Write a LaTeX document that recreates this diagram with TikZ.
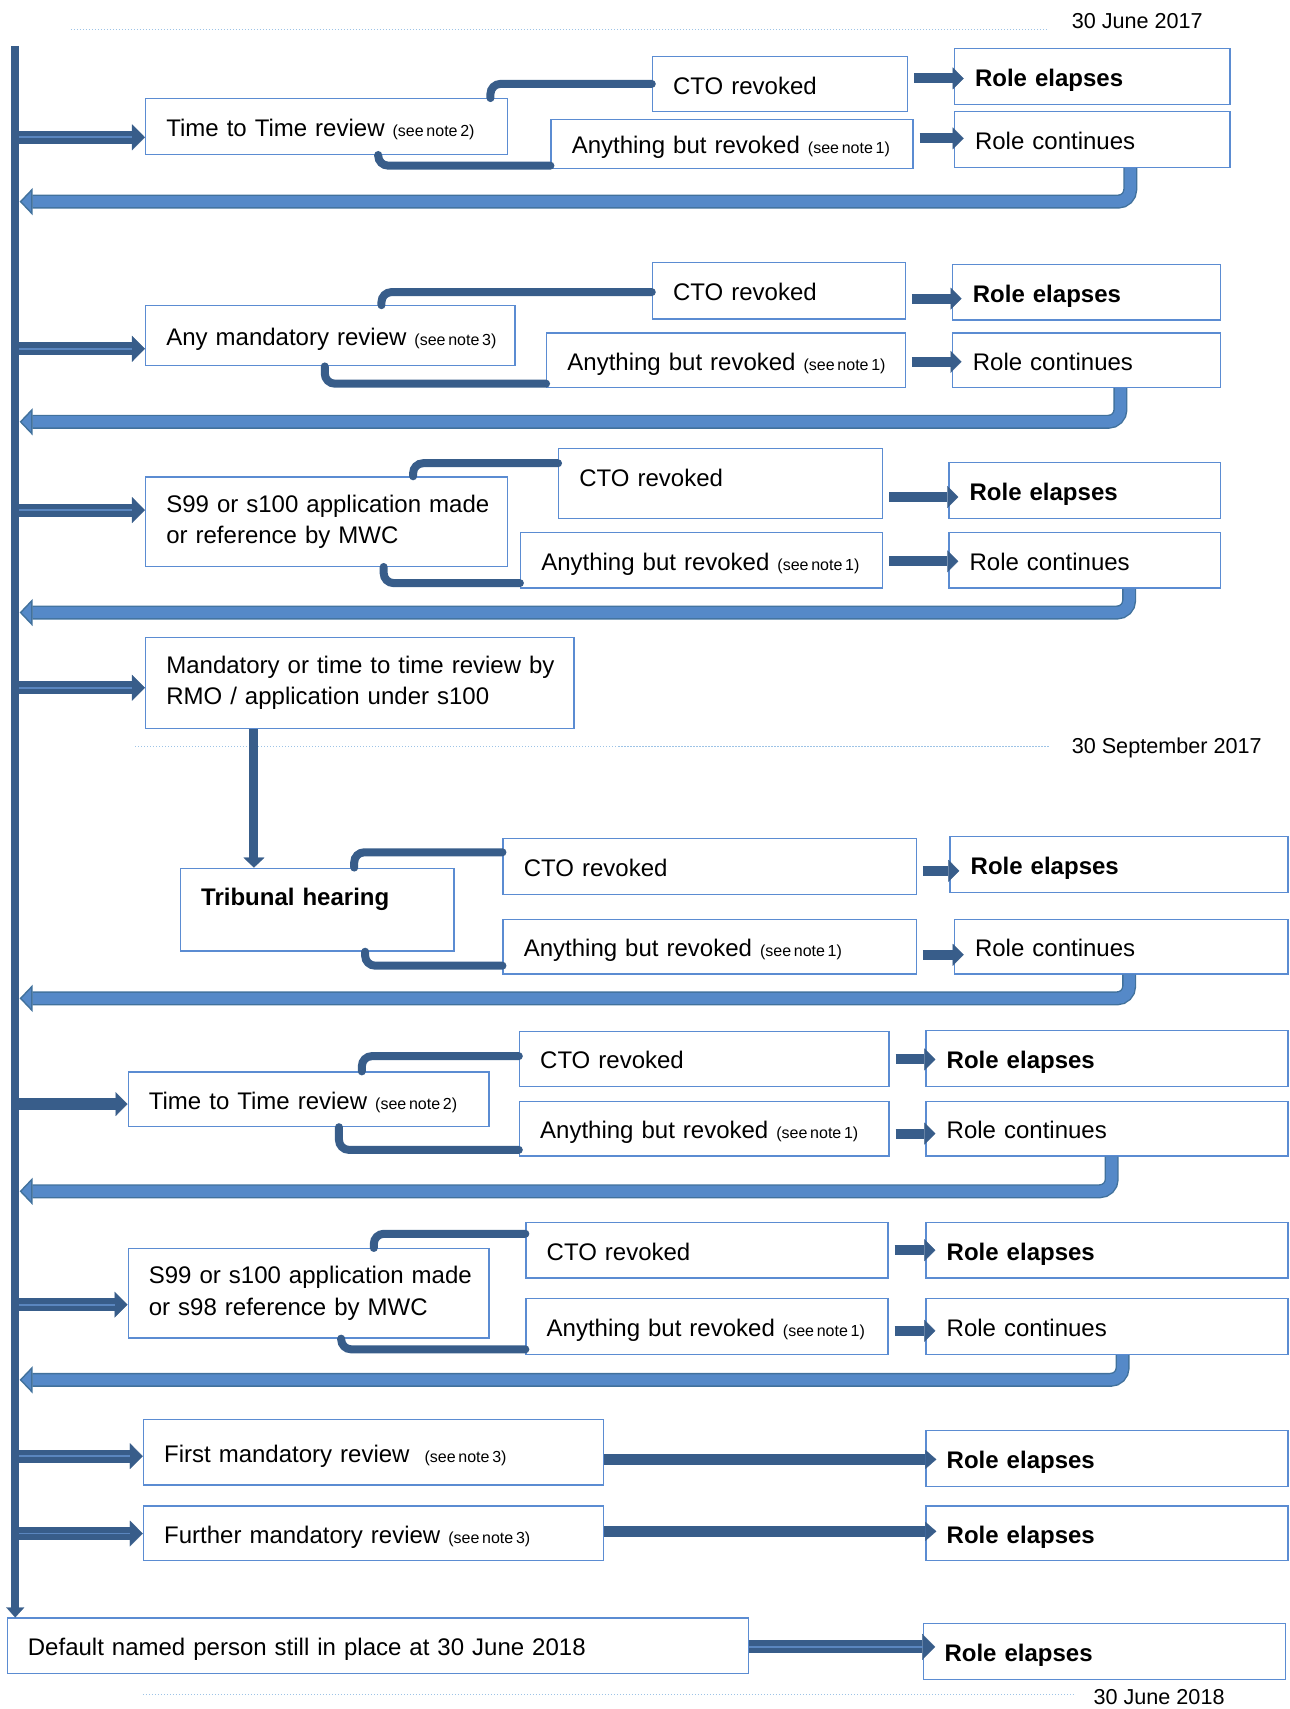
\documentclass[tikz,border=0pt]{standalone}
\usepackage{fontspec}
\setmainfont{Liberation Sans}
\usetikzlibrary{arrows.meta,calc}
\definecolor{dark}{HTML}{385D8A}
\definecolor{boxline}{HTML}{5B8CD2}
\definecolor{retfill}{HTML}{5589C8}
\definecolor{retborder}{HTML}{41719C}
\definecolor{stripecol}{HTML}{5A86BF}
\definecolor{dotcol}{HTML}{9DC3E6}
\newcommand\note[1]{{\fontsize{8}{9.6}\selectfont\spaceskip=0.17em\relax #1}}
\newcommand\mybox[7][box]{%
  \pgfmathsetlengthmacro\bw{(#5-#3)*0.5448pt}%
  \pgfmathsetlengthmacro\bh{(#6-#4)*0.5448pt}%
  \pgfmathsetlengthmacro\tw{(#5-#3)*0.5448pt-20.7pt}%
  \node[#1,anchor=north west,minimum width=\bw,minimum height=\bh,text width=\tw] (#2) at (#3,#4) {#7};}
\newcommand\mainarrow[2]{\draw[mainarr] #1 -- #2; \draw[stripe] #1 -- #2;}
\newcommand\retarrow[2]{\draw[retout] #1 |- #2; \draw[retin] #1 |- #2;}
\begin{document}
\begin{tikzpicture}[x=0.5448pt,y=-0.5448pt,
  boxbase/.style={draw=boxline,line width=0.65pt,rectangle,inner xsep=10.35pt,inner ysep=0pt,align=left,
    font=\fontsize{12}{15.8}\selectfont},
  box/.style={boxbase,text height=10pt,text depth=0pt},
  conn/.style={draw=dark,line width=4pt,rounded corners=5pt,line cap=round},
  mainarr/.style={draw=dark,line width=6.5pt,-{Triangle[width=13pt,length=6.5pt,line width=0.1pt]}},
  solidarr/.style={draw=dark,line width=6pt,-{Triangle[width=12pt,length=6pt,line width=0.1pt]}},
  stripe/.style={draw=stripecol,line width=0.9pt,shorten >=6.5pt},
  smallarr/.style={draw=dark,line width=5pt,shorten <=3pt,shorten >=-5pt,-{Triangle[width=11pt,length=5.5pt,line width=0.1pt]}},
  longarr/.style={draw=dark,line width=5.5pt,shorten >=-5.5pt,-{Triangle[width=9.5pt,length=5.5pt,line width=0.1pt]}},
  retout/.style={draw=retborder,line width=7pt,rounded corners=6pt,-{Triangle[width=13.5pt,length=6.5pt,line width=0.7pt,fill=retfill]}},
  retin/.style={draw=retfill,line width=5.6pt,rounded corners=6pt,shorten >=6.8pt},
  spine/.style={draw=dark,line width=4pt,-{Triangle[width=9pt,length=5pt,line width=0.1pt]}},
  vdown/.style={draw=dark,line width=4.5pt,-{Triangle[width=10.5pt,length=5pt,line width=0.1pt]}},
  dotline/.style={draw=dotcol,line width=0.5pt,dash pattern=on 0.6pt off 0.9pt},
  date/.style={anchor=west,inner sep=0pt,font=\fontsize{10.8}{13}\selectfont}]
\useasboundingbox (0,0) rectangle (1183,1568);

% dotted date lines
\draw[dotline] (65,27) -- (962,27);
\node[date] (t1) at (983,19) {30 June 2017};
\draw[dotline] (124,685) -- (962,685);
\node[date] (t2) at (983,686) {30 September 2017};
\draw[dotline] (131,1555) -- (985,1555);
\node[date] (t3) at (1003,1557) {30 June 2018};

\coordinate (S0) at (14,42);
\coordinate (S1) at (18,42);

% ---- section 1
\mybox{A1}{133}{90}{465}{141}{\mbox{Time to Time review \note{(see note 2)}}}
\mybox{B1}{598}{51}{832}{102}{CTO revoked}
\mybox{C1}{505}{109}{837}{154}{\mbox{Anything but revoked \note{(see note 1)}}}
\mybox{D1}{875}{44}{1128}{95}{\textbf{Role elapses}}
\mybox{E1}{875}{102}{1128}{153}{Role continues}
% ---- section 2
\mybox{A2}{133}{280}{472}{335}{\mbox{Any mandatory review \note{(see note 3)}}}
\mybox{B2}{598}{240}{830}{292}{CTO revoked}
\mybox{C2}{501}{305}{830}{355}{\mbox{Anything but revoked \note{(see note 1)}}}
\mybox{D2}{873}{242}{1119}{293}{\textbf{Role elapses}}
\mybox{E2}{873}{305}{1119}{355}{Role continues}
% ---- section 3
\mybox[boxbase]{A3}{133}{437}{465}{519}{\mbox{S99 or s100 application made}\\\mbox{or reference by MWC}}
\mybox[box,text depth=6.8pt]{B3}{512}{411}{809}{475}{CTO revoked}
\mybox{C3}{477}{488}{809}{539}{\mbox{Anything but revoked \note{(see note 1)}}}
\mybox{D3}{870}{424}{1119}{475}{\textbf{Role elapses}}
\mybox{E3}{870}{488}{1119}{539}{Role continues}
% ---- section 4
\mybox[boxbase]{A4}{133}{584}{526}{668}{\mbox{Mandatory or time to time review by}\\\mbox{RMO / application under s100}}
\mybox[box,text depth=14.4pt]{T}{165}{796}{416}{872}{\textbf{Tribunal hearing}}
\mybox{B4}{461}{769}{840}{820}{CTO revoked}
\mybox{C4}{461}{843}{840}{893}{\mbox{Anything but revoked \note{(see note 1)}}}
\mybox{D4}{871}{767}{1181}{818}{\textbf{Role elapses}}
\mybox{E4}{875}{843}{1181}{893}{Role continues}
% ---- section 5
\mybox{A5}{117}{983}{448}{1033}{\mbox{Time to Time review \note{(see note 2)}}}
\mybox{B5}{476}{946}{815}{996}{CTO revoked}
\mybox{C5}{476}{1010}{815}{1060}{\mbox{Anything but revoked \note{(see note 1)}}}
\mybox{D5}{849}{945}{1181}{996}{\textbf{Role elapses}}
\mybox{E5}{849}{1010}{1181}{1060}{Role continues}
% ---- section 6
\mybox[boxbase]{A6}{117}{1145}{448}{1227}{\mbox{S99 or s100 application made}\\\mbox{or s98 reference by MWC}}
\mybox{B6}{482}{1121}{814}{1172}{CTO revoked}
\mybox{C6}{482}{1191}{814}{1242}{\mbox{Anything but revoked \note{(see note 1)}}}
\mybox{D6}{849}{1121}{1181}{1172}{\textbf{Role elapses}}
\mybox{E6}{849}{1191}{1181}{1242}{Role continues}
% ---- sections 7, 8
\mybox{F}{131}{1302}{553}{1362}{\mbox{First mandatory review\hspace{3.5pt} \note{(see note 3)}}}
\mybox{D7}{849}{1312}{1181}{1363}{\textbf{Role elapses}}
\mybox{G}{131}{1381}{553}{1431}{\mbox{Further mandatory review \note{(see note 3)}}}
\mybox{D8}{849}{1381}{1181}{1431}{\textbf{Role elapses}}
% ---- bottom
\mybox{H}{6}{1484}{686}{1535}{\mbox{Default named person still in place at 30 June 2018}}
\mybox{D9}{847}{1489}{1179}{1540}{\textbf{Role elapses}}

% ---- elbow connectors
\draw[conn] (A1.north -| 450,0) |- (B1.west |- 0,77);
\draw[conn] (A1.south -| 347,0) |- (C1.west |- 0,152);
\draw[conn] (A2.north -| 350,0) |- (B2.west |- 0,268);
\draw[conn] (A2.south -| 298,0) |- (C2.west |- 0,352);
\draw[conn] (A3.north -| 379,0) |- (B3.west |- 0,425);
\draw[conn] (A3.south -| 352,0) |- (C3.west |- 0,535);
\draw[conn] (T.north -| 325,0) |- (B4.west |- 0,782);
\draw[conn] (T.south -| 335,0) |- (C4.west |- 0,886);
\draw[conn] (A5.north -| 332,0) |- (B5.west |- 0,969);
\draw[conn] (A5.south -| 311,0) |- (C5.west |- 0,1055);
\draw[conn] (A6.north -| 343,0) |- (B6.west |- 0,1132);
\draw[conn] (A6.south -| 313,0) |- (C6.west |- 0,1238);

% ---- outcome arrows
\draw[smallarr] (B1.east |- 0,72) -- (D1.west |- 0,72);
\draw[smallarr] (C1.east |- 0,127) -- (E1.west |- 0,127);
\draw[smallarr] (B2.east |- 0,274) -- (D2.west |- 0,274);
\draw[smallarr] (C2.east |- 0,332) -- (E2.west |- 0,332);
\draw[smallarr] (B3.east |- 0,456) -- (D3.west |- 0,456);
\draw[smallarr] (C3.east |- 0,515) -- (E3.west |- 0,515);
\draw[smallarr] (B4.east |- 0,799) -- (D4.west |- 0,799);
\draw[smallarr] (C4.east |- 0,876) -- (E4.west |- 0,876);
\draw[smallarr] (B5.east |- 0,972) -- (D5.west |- 0,972);
\draw[smallarr] (C5.east |- 0,1040) -- (E5.west |- 0,1040);
\draw[smallarr] (B6.east |- 0,1147) -- (D6.west |- 0,1147);
\draw[smallarr] (C6.east |- 0,1221) -- (E6.west |- 0,1221);
\draw[longarr] (F.east |- 0,1339) -- (D7.west |- 0,1339);
\draw[longarr] (G.east |- 0,1405) -- (D8.west |- 0,1405);
\draw[mainarr,shorten >=-6pt] (H.east |- 0,1511) -- (D9.west |- 0,1511);
\draw[stripe,shorten >=0pt] (H.east |- 0,1511) -- (D9.west |- 0,1511);

% ---- tribunal link
\draw[vdown] (A4.south -| 233,0) -- (T.north -| 233,0);

% ---- return arrows
\retarrow{($(E1.south west)+(162,0)$)}{(S1 |- 0,185)}
\retarrow{($(E2.south west)+(155,0)$)}{(S1 |- 0,387)}
\retarrow{($(E3.south west)+(166,0)$)}{(S1 |- 0,562)}
\retarrow{($(E4.south west)+(161,0)$)}{(S1 |- 0,916)}
\retarrow{($(E5.south west)+(171,0)$)}{(S1 |- 0,1093)}
\retarrow{($(E6.south west)+(181,0)$)}{(S1 |- 0,1266)}

% ---- arrows from the time line
\mainarrow{(S0 |- 0,126)}{(A1.west |- 0,126)}
\mainarrow{(S0 |- 0,320)}{(A2.west |- 0,320)}
\mainarrow{(S0 |- 0,468)}{(A3.west |- 0,468)}
\mainarrow{(S0 |- 0,631)}{(A4.west |- 0,631)}
\draw[solidarr] (S0 |- 0,1013) -- (A5.west |- 0,1013);
\mainarrow{(S0 |- 0,1197)}{(A6.west |- 0,1197)}
\mainarrow{(S0 |- 0,1336)}{(F.west |- 0,1336)}
\mainarrow{(S0 |- 0,1407)}{(G.west |- 0,1407)}

% ---- time line
\draw[spine] (S0) -- (S0 |- H.north);
\end{tikzpicture}
\end{document}
